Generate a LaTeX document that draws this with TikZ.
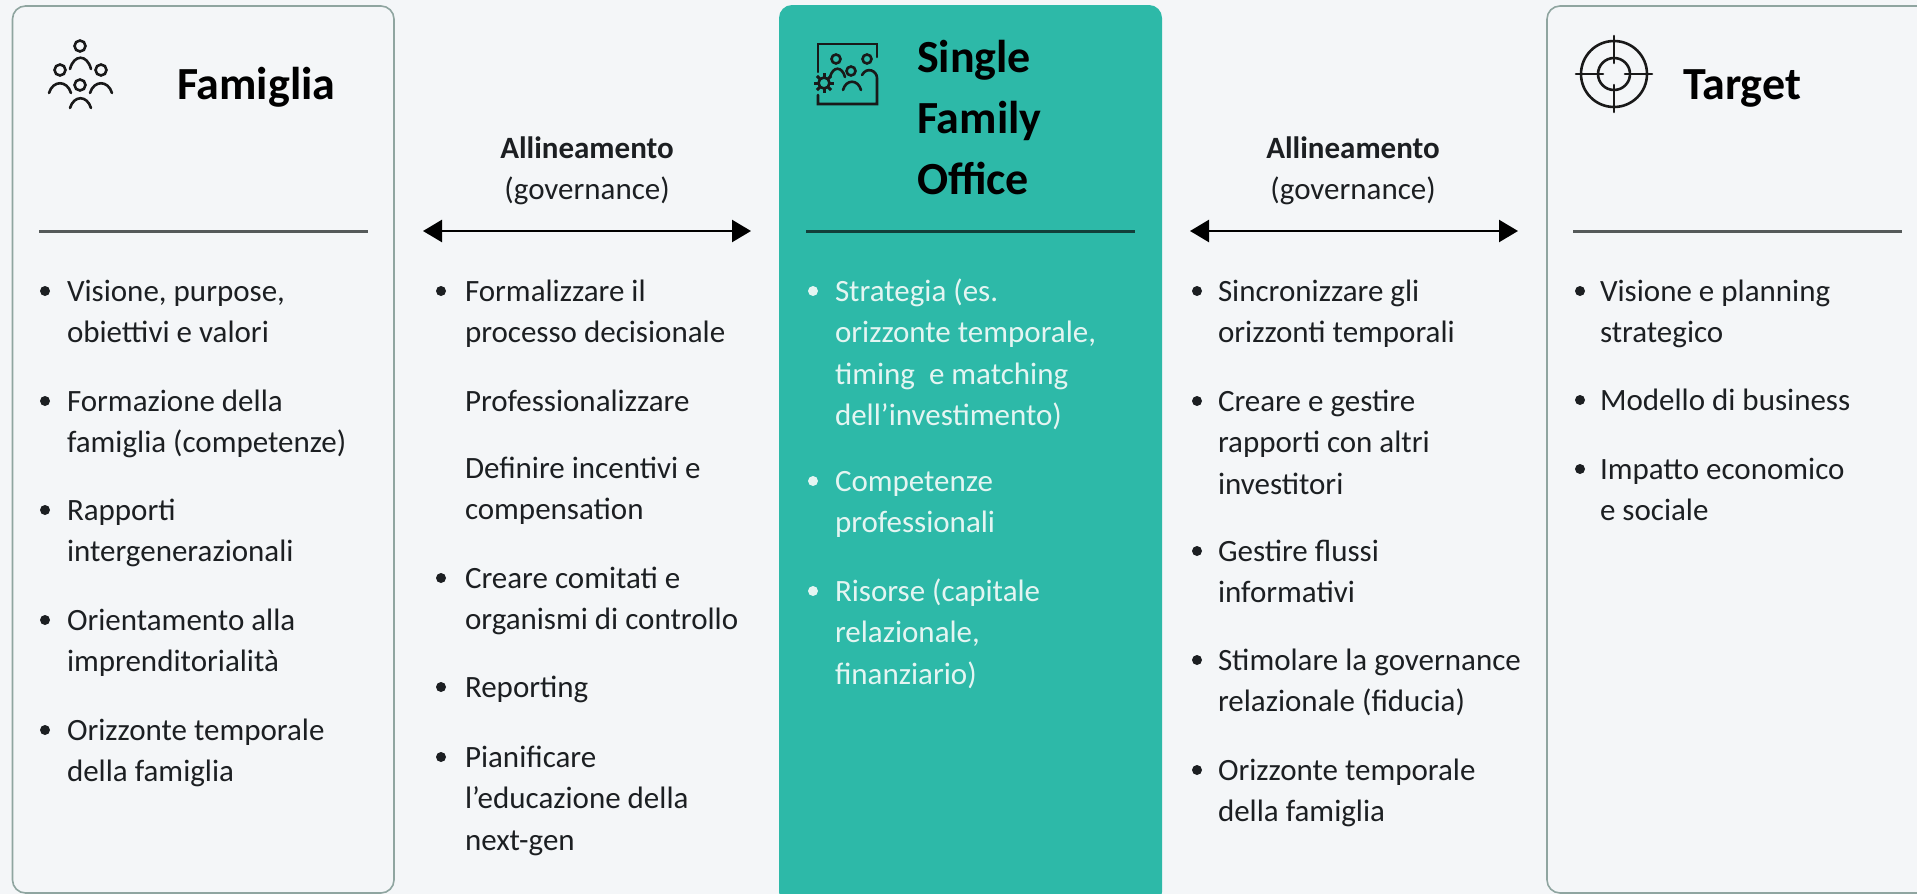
\documentclass[tikz,border=0pt]{standalone}
\usepackage{fontspec}
\setmainfont{Carlito}
\usetikzlibrary{arrows.meta}
\definecolor{pagebg}{HTML}{F4F6F8}
\definecolor{teal}{HTML}{2DB9A8}
\definecolor{edge}{HTML}{8FA5A0}
\definecolor{ink}{HTML}{1C1F22}
\definecolor{pale}{HTML}{E4F5F2}
\definecolor{ruleg}{HTML}{555A5A}
\definecolor{ruled}{HTML}{123F3A}
\tikzset{
  x=1pt,y=-1pt,
  panel/.style={draw=edge,line width=1.6pt,rounded corners=13pt,anchor=north west,inner sep=0pt,outer sep=0pt},
  itemtext/.style={anchor=north west,inner sep=0pt,outer sep=0pt,align=left,font=\fontsize{31}{41.5}\selectfont,text=ink},
  head/.style={anchor=north west,inner sep=0pt,outer sep=0pt,align=left,font=\fontsize{46}{61}\selectfont\bfseries,text=black},
  dot/.style={circle,fill=ink,inner sep=0pt,minimum size=10pt},
  rulebar/.style={line width=3pt},
  dbl/.style={line width=2.4pt,black,{Triangle[length=19pt,width=22pt]}-{Triangle[length=19pt,width=22pt]}},
  ico/.style={draw=black!90,line width=2.6pt,line cap=round},
  lab/.style={inner sep=0pt,anchor=base,font=\fontsize{31}{36}\selectfont,text=ink},
}
% name, bullet x, text x, first baseline, lines
\newcommand{\bul}[5]{\node[dot] (d#1) at (#2,#4-10) {};\node[itemtext] (#1) at (#3,#4-30) {\rule{0pt}{30pt}#5};}
\newcommand{\nob}[4]{\node[itemtext] (#1) at (#2,#3-30) {\rule{0pt}{30pt}#4};}
% shoulders: left x, right x, end y, control y
\newcommand{\shld}[4]{\draw[ico] (#1,#3) .. controls (#1+4,#4) and (#2-4,#4) .. (#2,#3);}
\begin{document}
\begin{tikzpicture}
\useasboundingbox (0,0) rectangle (1917,894);
\fill[pagebg] (0,0) rectangle (1917,894);
\clip (0,0) rectangle (1917,894);
% panels
\node[panel,minimum width=381.5pt,minimum height=887pt] (fam) at (12.5,6) {};
\node[panel,draw=none,fill=teal,minimum width=383pt,minimum height=900pt] (sfo) at (779,5) {};
\node[panel,minimum width=400pt,minimum height=887pt] (tgt) at (1547,6) {};
% rules
\coordinate (r1a) at (39,231);\coordinate (r1b) at (368,231);
\coordinate (r2a) at (806,231);\coordinate (r2b) at (1135,231);
\coordinate (r3a) at (1573,231);\coordinate (r3b) at (1902,231);
\draw[rulebar,ruleg] (r1a)--(r1b);
\draw[rulebar,ruled] (r2a)--(r2b);
\draw[rulebar,ruleg] (r3a)--(r3b);
% arrows
\coordinate (a1a) at (423,231);\coordinate (a1b) at (751,231);
\coordinate (a2a) at (1190,231);\coordinate (a2b) at (1518,231);
\draw[dbl] (a1a)--(a1b);
\draw[dbl] (a2a)--(a2b);
\node[lab,font=\fontsize{31}{36}\selectfont\bfseries] (al1) at (587,158) {Allineamento};
\node[lab] (go1) at (587,199) {(governance)};
\node[lab,font=\fontsize{31}{36}\selectfont\bfseries] (al2) at (1353,158) {Allineamento};
\node[lab] (go2) at (1353,199) {(governance)};
% heads
\node[head,anchor=base west] (hf) at (177,99) {Famiglia};
\node[head,anchor=north west] (hs) at (917,72-40) {\rule{0pt}{40pt}Single\\Family\\Office};
\node[head,anchor=base west] (ht) at (1683,99) {Target};
% family icon
\draw[ico] (80,46) circle[radius=5.5pt];
\draw[ico] (60,70) circle[radius=5.5pt];
\draw[ico] (101,70) circle[radius=5.5pt];
\draw[ico] (80,85) circle[radius=5.5pt];
\shld{70}{91}{69}{54}
\shld{49}{71}{93}{80}
\shld{90}{112}{93}{80}
\shld{70}{91}{108}{95}
% office icon
\draw[ico] (818,72)--(818,44)--(877,44)--(877,57);
\draw[ico] (818,95)--(818,104)--(877,104)--(877,78) .. controls (877,71) and (867,66) .. (862,75);
\draw[ico] (836,59) circle[radius=4.5pt];
\draw[ico] (867,59) circle[radius=4.5pt];
\draw[ico] (851,71) circle[radius=4.5pt];
\draw[ico] (830,77) .. controls (833,66) and (842,66) .. (845,77);
\draw[ico] (843,90) .. controls (846,79) and (858,79) .. (861,90);
\draw[ico] (824,83) circle[radius=5.5pt];
\foreach \a in {0,45,...,315}{\draw[ico,line cap=butt,line width=3pt] (824,83)+(\a:6pt)--+(\a:10pt);}
% target icon
\draw[ico,line cap=butt] (1614,74) circle[radius=33pt];
\draw[ico,line cap=butt] (1614,74) circle[radius=16pt];
\draw[ico] (1576,74)--(1603,74) (1625,74)--(1652,74) (1614,36)--(1614,63) (1614,85)--(1614,112);
% left column
\bul{f1}{45}{67}{301}{Visione, purpose,\\obiettivi e valori}
\bul{f2}{45}{67}{411}{Formazione della\\famiglia (competenze)}
\bul{f3}{45}{67}{520}{Rapporti\\intergenerazionali}
\bul{f4}{45}{67}{630}{Orientamento alla\\imprenditorialità}
\bul{f5}{45}{67}{740}{Orizzonte temporale\\della famiglia}
% second column
\bul{g1}{441}{465}{301}{Formalizzare il\\processo decisionale}
\nob{g2}{465}{411}{Professionalizzare}
\nob{g3}{465}{478}{Definire incentivi e\\compensation}
\bul{g4}{441}{465}{588}{Creare comitati e\\organismi di controllo}
\bul{g5}{441}{465}{697}{Reporting}
\bul{g6}{441}{465}{767}{Pianificare\\l’educazione della\\next-gen}
% centre column
\tikzset{itemtext/.append style={text=pale},dot/.append style={fill=pale}}
\bul{s1}{813}{835}{301}{Strategia (es.\\orizzonte temporale,\\timing\ \ e matching\\dell’investimento)}
\bul{s2}{813}{835}{491}{Competenze\\professionali}
\bul{s3}{813}{835}{601}{Risorse (capitale\\relazionale,\\finanziario)}
\tikzset{itemtext/.append style={text=ink},dot/.append style={fill=ink}}
% fourth column
\bul{h1}{1197}{1218}{301}{Sincronizzare gli\\orizzonti temporali}
\bul{h2}{1197}{1218}{411}{Creare e gestire\\rapporti con altri\\investitori}
\bul{h3}{1197}{1218}{561}{Gestire flussi\\informativi}
\bul{h4}{1197}{1218}{670}{Stimolare la governance\\relazionale (fiducia)}
\bul{h5}{1197}{1218}{780}{Orizzonte temporale\\della famiglia}
% right column
\bul{t1}{1580}{1600}{301}{Visione e planning\\strategico}
\bul{t2}{1580}{1600}{410}{Modello di business}
\bul{t3}{1580}{1600}{479}{Impatto economico\\e sociale}
\end{tikzpicture}
\end{document}
